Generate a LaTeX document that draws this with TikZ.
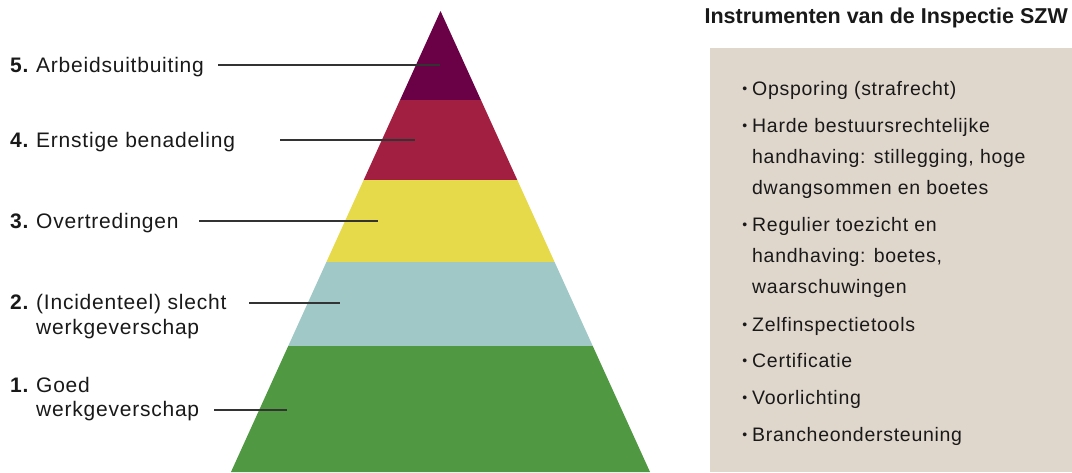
\documentclass[tikz,border=0pt]{standalone}
\usepackage{fontspec}
\setmainfont{Liberation Sans}[LetterSpace=3.7]
\newfontfamily\headfont{Liberation Sans}
\usetikzlibrary{positioning}

\definecolor{lvlfive}{HTML}{6A0046}
\definecolor{lvlfour}{HTML}{A31F42}
\definecolor{lvlthree}{HTML}{E6D94A}
\definecolor{lvltwo}{HTML}{9FC8C6}
\definecolor{lvlone}{HTML}{509841}
\definecolor{panelbg}{HTML}{DFD6CC}

\newcommand{\lvlnum}[1]{\llap{\makebox[26pt][l]{\textbf{#1}}}}
\newcommand{\itembul}{\llap{\raisebox{1.5pt}{\fontsize{14}{14}\selectfont\textbullet}\hspace{5pt}}}

\begin{document}
\begin{tikzpicture}[
  x=1pt, y=-1pt,
  every node/.style={inner sep=0pt, align=left, text=black!90},
  lvl/.style={font=\fontsize{21}{24.5}\selectfont, anchor=base west},
  item/.style={font=\fontsize{19.5}{31}\selectfont, anchor=base west},
  pointer/.style={draw=black!80, line width=1.1pt}
]
\useasboundingbox (0,0) rectangle (1072,472);

% pyramid bands: top y / bottom y / colour
\foreach \ytop/\ybot/\col in {11/100/lvlfive, 100/180/lvlfour, 180/262/lvlthree, 262/346/lvltwo, 346/472/lvlone}
  \fill[\col] ({440.5-0.4545*(\ytop-11)},\ytop) -- ({440.5+0.4545*(\ytop-11)},\ytop)
    -- ({440.5+0.4545*(\ybot-11)},\ybot) -- ({440.5-0.4545*(\ybot-11)},\ybot) -- cycle;

% level labels (base = last line)
\node[lvl] (l5) at (36,72) {\lvlnum{5.}Arbeidsuitbuiting};
\node[lvl] (l4) at (36,147) {\lvlnum{4.}Ernstige benadeling};
\node[lvl] (l3) at (36,228) {\lvlnum{3.}Overtredingen};
\node[lvl] (l2) at (36,334) {\lvlnum{2.}(Incidenteel) slecht\\werkgeverschap};
\node[lvl] (l1) at (36,416.5) {\lvlnum{1.}Goed\\werkgeverschap};

% pointer lines
\coordinate (s5) at (218,65);  \coordinate (e5) at (440,65);
\coordinate (s4) at (280,140); \coordinate (e4) at (415,140);
\coordinate (s3) at (199,221); \coordinate (e3) at (378,221);
\coordinate (s2) at (249,303); \coordinate (e2) at (340,303);
\coordinate (s1) at (214,410); \coordinate (e1) at (287,410);
\foreach \i in {1,...,5}
  \draw[pointer] (s\i) -- (e\i);

% instruments panel
\node[font=\headfont\fontsize{21.5}{24}\selectfont\bfseries, anchor=base east] (title) at (1068,23) {Instrumenten van de Inspectie SZW};
\fill[panelbg] (710,48) rectangle (1072,472);

\node[item] (i1) at (752,95) {\itembul Opsporing (strafrecht)};
\node[item] (i2) at (752,194) {\itembul Harde bestuursrechtelijke\\handhaving: stillegging, hoge\\dwangsommen en boetes};
\node[item] (i3) at (752,293) {\itembul Regulier toezicht en\\handhaving: boetes,\\waarschuwingen};
\node[item] (i4) at (752,331) {\itembul Zelfinspectietools};
\node[item] (i5) at (752,367) {\itembul Certificatie};
\node[item] (i6) at (752,404) {\itembul Voorlichting};
\node[item] (i7) at (752,441) {\itembul Brancheondersteuning};

\end{tikzpicture}
\end{document}
